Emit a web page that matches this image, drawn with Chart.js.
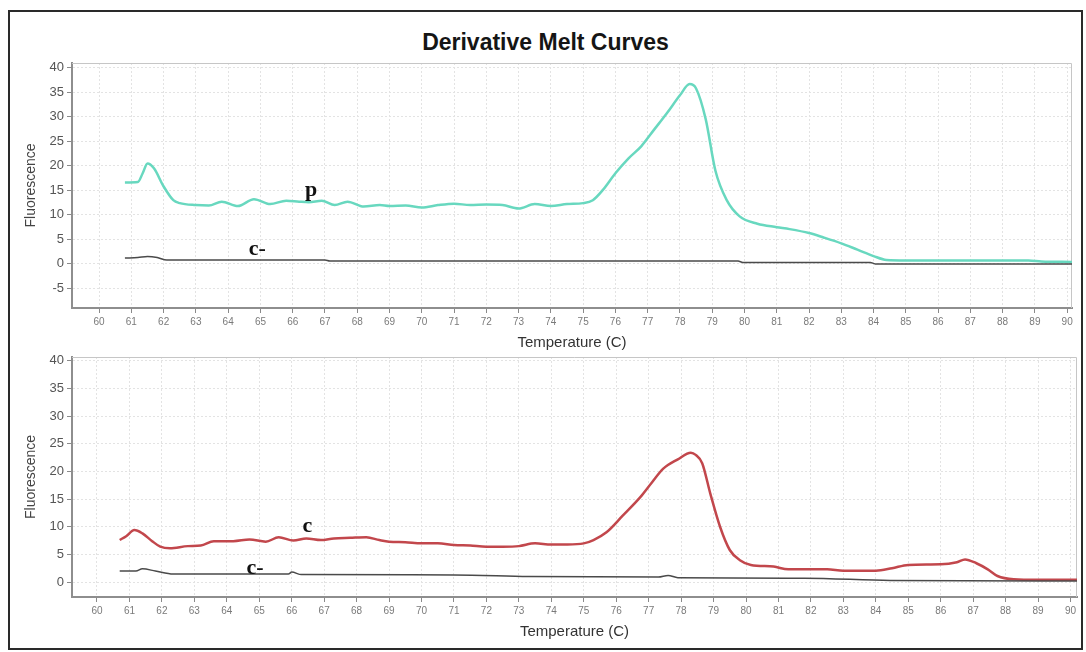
<!DOCTYPE html>
<html>
<head>
<meta charset="utf-8">
<title>Derivative Melt Curves</title>
<script src="https://cdn.jsdelivr.net/npm/chart.js@4.4.0/dist/chart.umd.min.js"></script>
<style>
  html, body { margin: 0; padding: 0; background: #fff; }
  body { width: 1086px; height: 652px; position: relative; overflow: hidden; font-family: "Liberation Sans", Arial, sans-serif; }
  #frame { position: absolute; left: 8px; top: 10px; width: 1075px; height: 640px; box-sizing: border-box; border: 2px solid #2a2a2a; }
  #titolo { position: absolute; left: 8px; width: 1075px; top: 29px; text-align: center; font-weight: bold; font-size: 23px; color: #151515; }
  canvas { position: absolute; left: 0; }
  #chart-top { top: 0; }
  #chart-bot { top: 352px; }
</style>
</head>
<body>
<div id="frame"></div>
<div id="titolo">Derivative Melt Curves</div>
<canvas id="chart-top" width="1086" height="352"></canvas>
<canvas id="chart-bot" width="1086" height="300"></canvas>
<script>
// ═══════════════════════════════════════════════════════
//  DATI
// ═══════════════════════════════════════════════════════
const xTicks   = [60, 61, 62, 63, 64, 65, 66, 67, 68, 69, 70, 71, 72, 73, 74, 75, 76, 77, 78, 79, 80, 81, 82, 83, 84, 85, 86, 87, 88, 89, 90];
const yTicksTop = [-5, 0, 5, 10, 15, 20, 25, 30, 35, 40];
const yTicksBot = [0, 5, 10, 15, 20, 25, 30, 35, 40];

// campione p (sopra)
const tempP = [60.8, 61.2, 61.35, 61.5, 61.7, 62.0, 62.3, 62.5, 63.0, 63.4,
  63.8, 64.3, 64.8, 65.3, 65.8, 66.2, 66.5, 66.9, 67.3, 67.7,
  68.2, 68.7, 69.0, 69.5, 70.0, 70.5, 71.0, 71.5, 72.0, 72.5,
  73.0, 73.5, 74.0, 74.5, 75.0, 75.3, 75.6, 76.0, 76.4, 76.8,
  77.2, 77.6, 78.0, 78.3, 78.5, 78.8, 79.1, 79.45, 79.85, 80.4,
  81.0, 81.4, 82.0, 82.45, 83.0, 83.5, 84.0, 84.4, 85.0, 86.0,
  87.0, 88.0, 88.8, 89.2, 90.15];
const valP = [16.6, 16.7, 18.5, 20.5, 19.5, 15.8, 13.0, 12.4, 12.0, 11.9,
  12.7, 11.8, 13.2, 12.2, 12.9, 12.7, 12.6, 12.9, 12.0, 12.7,
  11.7, 12.0, 11.8, 11.9, 11.5, 12.0, 12.3, 12.0, 12.1, 12.0,
  11.3, 12.2, 11.8, 12.2, 12.4, 13.0, 15.0, 18.5, 21.5, 24.0,
  27.4, 30.8, 34.4, 36.7, 35.8, 29.5, 19.0, 13.0, 9.7, 8.2,
  7.5, 7.1, 6.3, 5.4, 4.2, 2.9, 1.6, 0.8, 0.7, 0.7,
  0.7, 0.7, 0.7, 0.5, 0.4];

// controllo negativo c- (sopra)
const tempNegTop = [60.8, 61.2, 61.5, 61.8, 62.1, 67.0, 67.15, 79.8, 79.95, 83.9, 84.05, 90.15];
const valNegTop  = [1.2, 1.3, 1.5, 1.3, 0.8, 0.8, 0.6, 0.6, 0.3, 0.3, 0.0, 0.0];

// campione c (sotto)
const tempC = [60.7, 60.9, 61.15, 61.4, 61.7, 61.95, 62.25, 62.8, 63.2, 63.6,
  64.2, 64.7, 65.2, 65.6, 66.05, 66.45, 66.9, 67.3, 67.8, 68.3,
  68.7, 69.0, 69.5, 70.0, 70.5, 71.0, 71.5, 72.0, 72.5, 73.0,
  73.5, 74.0, 74.5, 75.0, 75.3, 75.7, 76.2, 76.75, 77.1, 77.45,
  77.9, 78.3, 78.45, 78.65, 78.9, 79.2, 79.5, 79.8, 80.15, 80.85,
  81.3, 82.5, 83.0, 84.0, 84.5, 85.0, 86.0, 86.5, 86.75, 87.1,
  87.45, 87.75, 88.25, 89.0, 90.2];
const valC = [7.6, 8.3, 9.4, 8.8, 7.4, 6.4, 6.1, 6.5, 6.6, 7.4,
  7.4, 7.7, 7.3, 8.1, 7.5, 7.9, 7.6, 7.9, 8.0, 8.1,
  7.6, 7.3, 7.2, 7.0, 7.0, 6.7, 6.6, 6.4, 6.4, 6.5,
  7.0, 6.8, 6.8, 7.0, 7.6, 9.0, 12.0, 15.4, 18.0, 20.5,
  22.2, 23.4, 23.0, 21.5, 16.0, 10.0, 5.8, 4.0, 3.1, 2.8,
  2.3, 2.3, 2.05, 2.05, 2.5, 3.1, 3.2, 3.6, 4.1, 3.4,
  2.3, 1.1, 0.5, 0.4, 0.4];

// controllo negativo c- (sotto)
const tempNegBot = [60.7, 61.2, 61.4, 61.8, 62.35, 65.9, 66.0, 66.3, 71.0, 73.3, 77.3, 77.6, 77.9, 81.8, 84.45, 90.2];
const valNegBot  = [2.0, 2.0, 2.4, 2.0, 1.45, 1.45, 1.8, 1.35, 1.3, 1.0, 0.9, 1.2, 0.8, 0.7, 0.3, 0.2];

// etichette scritte sul grafico (in coordinate dati)
const noteTopText = ['p', 'c-'];
const noteTopX    = [66.57, 64.9];
const noteTopY    = [15.0, 2.9];
const noteBotText = ['c', 'c-'];
const noteBotX    = [66.48, 64.87];
const noteBotY    = [10.1, 2.5];

// ═══════════════════════════════════════════════════════
//  PLUGIN
// ═══════════════════════════════════════════════════════
const SANS = '"Liberation Sans", Arial, sans-serif';
const pts = (xs, ys) => xs.map((t, i) => ({ x: t, y: ys[i] }));

const plotBox = {
  id: 'plotBox',
  beforeDatasetsDraw(chart) {
    const { ctx, chartArea: a } = chart;
    ctx.save();
    ctx.strokeStyle = '#c6c6c6';
    ctx.lineWidth = 1;
    ctx.beginPath();
    ctx.moveTo(a.left, a.top + 0.5);
    ctx.lineTo(a.right - 0.5, a.top + 0.5);
    ctx.lineTo(a.right - 0.5, a.bottom);
    ctx.stroke();
    ctx.restore();
  }
};

const noteLabels = {
  id: 'noteLabels',
  afterDatasetsDraw(chart, args, opts) {
    const { ctx, scales: { x, y } } = chart;
    ctx.save();
    ctx.font = 'bold 22px "Liberation Serif", "Times New Roman", serif';
    ctx.fillStyle = '#111';
    ctx.textAlign = 'center';
    ctx.textBaseline = 'middle';
    opts.text.forEach((t, i) => ctx.fillText(t, x.getPixelForValue(opts.x[i]), y.getPixelForValue(opts.y[i])));
    ctx.restore();
  }
};

// ═══════════════════════════════════════════════════════
//  GRAFICI
// ═══════════════════════════════════════════════════════
function makeChart(id, datasets, o) {
  return new Chart(document.getElementById(id), {
    type: 'line',
    data: { datasets },
    plugins: [plotBox, noteLabels],
    options: {
      responsive: false, animation: false, devicePixelRatio: 1,
      layout: { padding: o.padding },
      elements: { point: { radius: 0 }, line: { cubicInterpolationMode: 'monotone', borderJoinStyle: 'round' } },
      plugins: {
        legend: { display: false }, tooltip: { enabled: false },
        noteLabels: o.notes
      },
      scales: {
        x: {
          type: 'linear', min: o.xMin, max: o.xMax,
          afterBuildTicks: s => { s.ticks = xTicks.map(v => ({ value: v })); },
          afterFit: s => { s.height = 44; s.paddingLeft = 0; s.paddingRight = 0; },
          ticks: { autoSkip: false, maxRotation: 0, padding: 3, color: '#7a7a7a', font: { family: SANS, size: 10 } },
          grid: { color: '#e3e3e3', tickColor: '#8a8a8a', tickLength: 5 },
          border: { color: '#8e8e8e', width: 2, dash: [2, 2] },
          title: { display: true, text: 'Temperature (C)', color: '#333', font: { family: SANS, size: 15 }, padding: { top: 0, bottom: 0 } }
        },
        y: {
          min: o.yMin, max: o.yMax,
          afterBuildTicks: s => { s.ticks = o.yTicks.map(v => ({ value: v })); },
          afterFit: s => { s.width = 72; s.paddingTop = 0; s.paddingBottom = 0; },
          ticks: { padding: 3, color: '#555', font: { family: SANS, size: 13 } },
          grid: { color: '#e3e3e3', tickColor: '#8a8a8a', tickLength: 5 },
          border: { color: '#8e8e8e', width: 2, dash: [2, 2] },
          title: { display: true, text: 'Fluorescence', color: '#444', font: { family: SANS, size: 14 }, padding: { top: 23, bottom: 0 } }
        }
      }
    }
  });
}

makeChart('chart-top', [
  { data: pts(tempNegTop, valNegTop), borderColor: '#4a4a4a', borderWidth: 1.5 },
  { data: pts(tempP, valP), borderColor: '#68d8bf', borderWidth: 2.5 }
], {
  padding: { left: 0, top: 63, right: 14, bottom: 0 },
  xMin: 59.16, xMax: 90.15, yMin: -9, yMax: 41, yTicks: yTicksTop,
  notes: { text: noteTopText, x: noteTopX, y: noteTopY }
});

makeChart('chart-bot', [
  { data: pts(tempNegBot, valNegBot), borderColor: '#4a4a4a', borderWidth: 1.5 },
  { data: pts(tempC, valC), borderColor: '#c2474c', borderWidth: 2.5 }
], {
  padding: { left: 0, top: 5, right: 9, bottom: 11 },
  xMin: 59.23, xMax: 90.2, yMin: -2.7, yMax: 40.7, yTicks: yTicksBot,
  notes: { text: noteBotText, x: noteBotX, y: noteBotY }
});
</script>
</body>
</html>
